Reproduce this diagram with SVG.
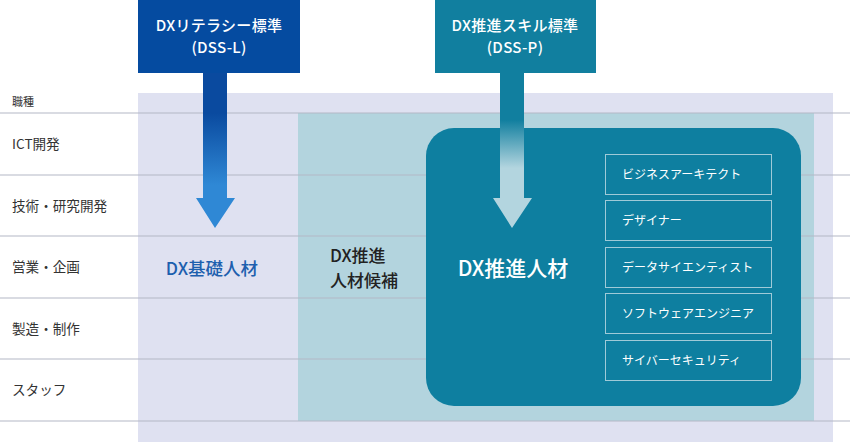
<svg xmlns="http://www.w3.org/2000/svg" width="850" height="442" viewBox="0 0 850 442">
<style>
text{font-family:"Noto Sans CJK JP","Noto Sans",sans-serif}
.row{font-size:13.6px;fill:#333}
.hd{font-size:15px;fill:#fff;font-weight:500;text-anchor:middle;letter-spacing:0.3px}
.grid{stroke:#b4b7c6;stroke-width:1.2}
.role rect{fill:none;stroke:#9fcad8;stroke-width:1}
.role text{font-size:12px;fill:#fff}
</style>
<defs>
<linearGradient id="gL" x1="0" y1="113" x2="0" y2="185" gradientUnits="userSpaceOnUse">
<stop offset="0" stop-color="#0a4a9f"/><stop offset="1" stop-color="#2f88d5"/>
</linearGradient>
<linearGradient id="gP" x1="0" y1="120" x2="0" y2="168" gradientUnits="userSpaceOnUse">
<stop offset="0" stop-color="#117f9f"/><stop offset="1" stop-color="#b3d5df"/>
</linearGradient>
</defs>
<g id="background">
<rect x="138" y="93" width="695" height="349" fill="#dfe1f1"/>
<rect x="298" y="113" width="516" height="308" fill="#b3d4de"/>
</g>
<g id="grid">
<line class="grid" x1="0" y1="113" x2="850" y2="113"/>
<line class="grid" x1="0" y1="175" x2="850" y2="175"/>
<line class="grid" x1="0" y1="236" x2="850" y2="236"/>
<line class="grid" x1="0" y1="298" x2="850" y2="298"/>
<line class="grid" x1="0" y1="359" x2="850" y2="359"/>
<line class="grid" x1="0" y1="421" x2="850" y2="421"/>
</g>
<g id="row-labels">
<text class="row" x="12" y="106" style="font-size:11px">職種</text>
<text class="row" x="12" y="149">ICT開発</text>
<text class="row" x="12" y="211">技術・研究開発</text>
<text class="row" x="12" y="272">営業・企画</text>
<text class="row" x="12" y="334">製造・制作</text>
<text class="row" x="12" y="395">スタッフ</text>
</g>
<g id="dx-kiso">
<text x="212" y="275" font-size="17.5" font-weight="500" fill="#1d5fae" text-anchor="middle">DX基礎人材</text>
</g>
<g id="dx-kouho">
<text x="330" y="262" font-size="17" font-weight="500" fill="#222">DX推進</text>
<text x="330" y="287" font-size="17" font-weight="500" fill="#222">人材候補</text>
</g>
<g id="dx-suishin">
<rect x="426" y="128" width="375" height="278" rx="28" fill="#0e7fa0"/>
<text x="513" y="276" font-size="21" font-weight="500" fill="#fff" text-anchor="middle">DX推進人材</text>
</g>
<g id="roles">
<g class="role" id="role1"><rect x="605.5" y="154.5" width="166" height="40"/><text x="622" y="179">ビジネスアーキテクト</text></g>
<g class="role" id="role2"><rect x="605.5" y="200.5" width="166" height="40"/><text x="622" y="225">デザイナー</text></g>
<g class="role" id="role3"><rect x="605.5" y="247.5" width="166" height="40"/><text x="622" y="272">データサイエンティスト</text></g>
<g class="role" id="role4"><rect x="605.5" y="293.5" width="166" height="40"/><text x="622" y="318">ソフトウェアエンジニア</text></g>
<g class="role" id="role5"><rect x="605.5" y="340.5" width="166" height="40"/><text x="622" y="365">サイバーセキュリティ</text></g>
</g>
<g id="connectors">
<polygon points="203,72 227,72 227,198 235,198 215,228 196,198 203,198" fill="url(#gL)"/>
<polygon points="500,72 524,72 524,198 532,198 512,228 493,198 500,198" fill="url(#gP)"/>
</g>
<g id="dss-l">
<rect x="138" y="0" width="162" height="73" fill="#054ba0"/>
<text class="hd" x="219" y="31">DXリテラシー標準</text>
<text class="hd" x="219" y="53">(DSS-L)</text>
</g>
<g id="dss-p">
<rect x="435" y="0" width="161" height="73" fill="#117f9f"/>
<text class="hd" x="515" y="31">DX推進スキル標準</text>
<text class="hd" x="515" y="53">(DSS-P)</text>
</g>
</svg>
